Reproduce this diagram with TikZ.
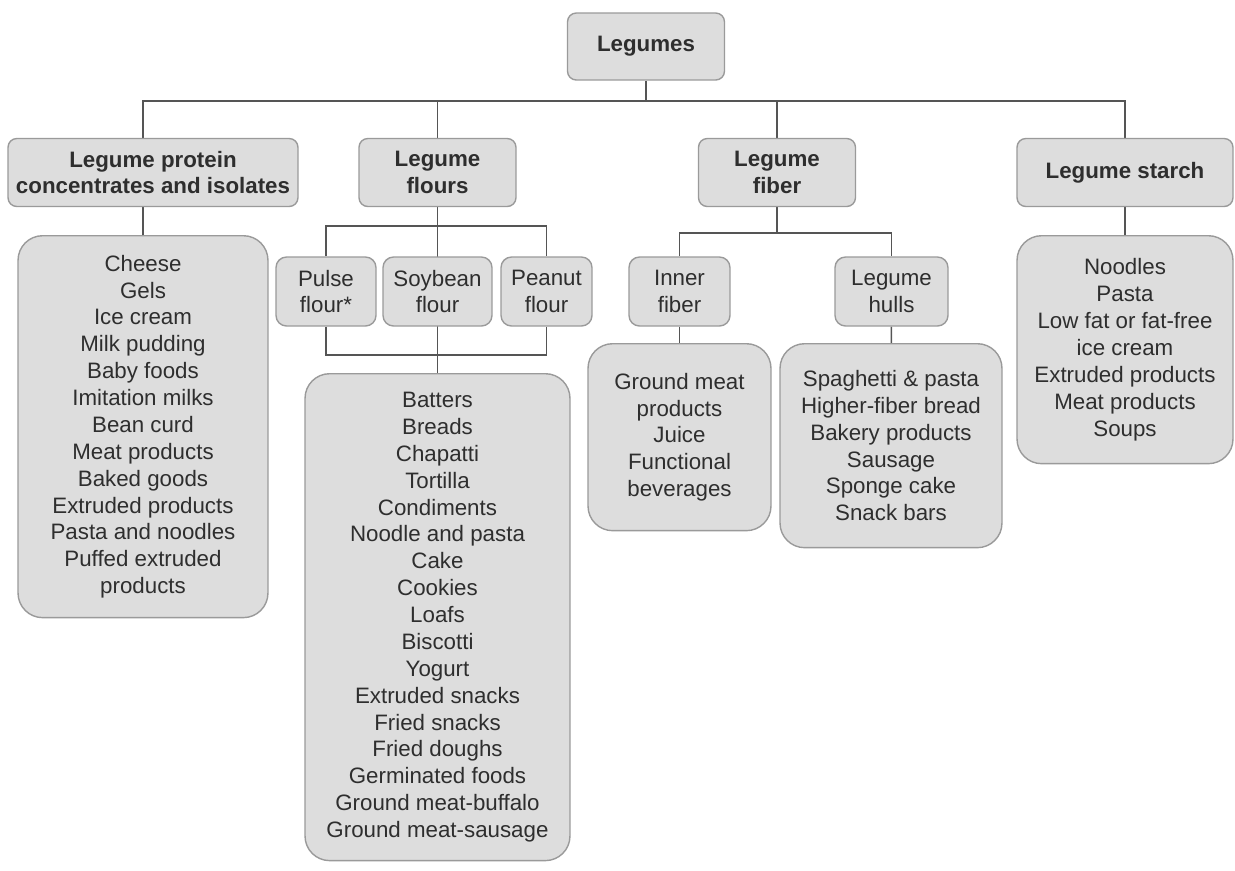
\documentclass[tikz,border=0pt]{standalone}
\usepackage{fontspec}
\setmainfont{Liberation Sans}
\usetikzlibrary{backgrounds}

\definecolor{boxfill}{HTML}{DDDDDD}
\definecolor{boxline}{HTML}{9A9A9A}
\definecolor{inkgray}{HTML}{2E2E2E}
\definecolor{wiregray}{HTML}{555555}

\tikzset{
  head/.style={rectangle, draw=boxline, fill=boxfill, text=inkgray, line width=0.8pt,
    rounded corners=5pt, align=center, inner sep=0pt, font=\bfseries},
  sub/.style={rectangle, draw=boxline, fill=boxfill, text=inkgray, line width=0.8pt,
    rounded corners=6pt, align=center, inner sep=0pt, minimum height=1.38cm},
  items/.style={rectangle, draw=boxline, fill=boxfill, text=inkgray, line width=0.8pt,
    rounded corners=14pt, align=center, inner sep=0pt, anchor=north},
  link/.style={draw=wiregray, line width=0.8pt}
}

\begin{document}
\fontsize{12.7}{15.3}\selectfont
\begin{tikzpicture}[x=0.02cm, y=-0.02cm]
  \useasboundingbox (0,0) rectangle (1235,870);

  % top level
  \node (legumes) [head, minimum width=3.14cm, minimum height=1.34cm] at (646,46.5) {Legumes};
  \coordinate (hub) at (646,101);

  % second level
  \node (protein) [head, minimum width=5.8cm, minimum height=1.36cm] at (153,172.5) {Legume protein\\concentrates and isolates};
  \node (flours) [head, minimum width=3.14cm, minimum height=1.36cm] at (437.5,172.5) {Legume\\flours};
  \node (fiber) [head, minimum width=3.14cm, minimum height=1.36cm] at (777,172.5) {Legume\\fiber};
  \node (starch) [head, minimum width=4.32cm, minimum height=1.36cm] at (1125,172.5) {Legume starch};

  % flour and fiber kinds
  \node (pulse) [sub, minimum width=2cm] at (326,291.5) {Pulse\\flour*};
  \node (soybean) [sub, minimum width=2.18cm] at (437.5,291.5) {Soybean\\flour};
  \node (peanut) [sub, minimum width=1.82cm] at (546.5,291.5) {Peanut\\flour};
  \node (inner) [sub, minimum width=2.02cm] at (679.5,291.5) {Inner\\fiber};
  \node (hulls) [sub, minimum width=2.26cm] at (891.5,291.5) {Legume\\hulls};
  \coordinate (fsplit) at (437.5,226);
  \coordinate (fjoin) at (437.5,355);
  \coordinate (bsplit) at (777,233);

  % food uses
  \node (plist) [items, minimum width=5cm, minimum height=7.64cm] at (143,235)
    {Cheese\\Gels\\Ice cream\\Milk pudding\\Baby foods\\Imitation milks\\Bean curd\\Meat products\\Baked goods\\Extruded products\\Pasta and noodles\\Puffed extruded\\products};
  \node (flist) [items, minimum width=5.3cm, minimum height=9.74cm] at (437.5,373)
    {Batters\\Breads\\Chapatti\\Tortilla\\Condiments\\Noodle and pasta\\Cake\\Cookies\\Loafs\\Biscotti\\Yogurt\\Extruded snacks\\Fried snacks\\Fried doughs\\Germinated foods\\Ground meat-buffalo\\Ground meat-sausage};
  \node (ilist) [items, minimum width=3.66cm, minimum height=3.74cm] at (679.5,343)
    {Ground meat\\products\\Juice\\Functional\\beverages};
  \node (hlist) [items, minimum width=4.44cm, minimum height=4.08cm] at (891,343)
    {Spaghetti \& pasta\\Higher-fiber bread\\Bakery products\\Sausage\\Sponge cake\\Snack bars};
  \node (slist) [items, minimum width=4.32cm, minimum height=4.56cm] at (1125,235)
    {Noodles\\Pasta\\Low fat or fat-free\\ice cream\\Extruded products\\Meat products\\Soups};

  \begin{scope}[on background layer]
    \draw [link] (legumes) -- (hub);
    \draw [link] (plist.north) |- (hub) -| (starch.north);
    \draw [link] (hub) -| (flours.north);
    \draw [link] (hub) -| (fiber.north);
    \draw [link] (starch) -- (slist);
    \draw [link] (flours) -- (flist);
    \draw [link] (pulse.north) |- (fsplit) -| (peanut.north);
    \draw [link] (pulse.south) |- (fjoin) -| (peanut.south);
    \draw [link] (fiber) -- (bsplit);
    \draw [link] (inner.north) |- (bsplit) -| (hulls.north);
    \draw [link] (inner) -- (ilist);
    \draw [link] (hulls) -- (hlist);
  \end{scope}
\end{tikzpicture}
\end{document}
